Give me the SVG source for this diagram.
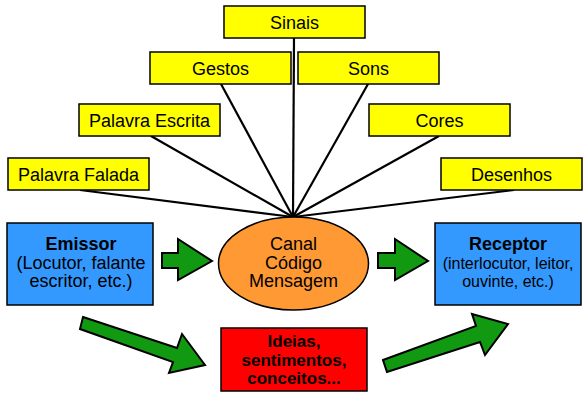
<svg xmlns="http://www.w3.org/2000/svg" width="588" height="400" viewBox="0 0 588 400">
<style>
.y{fill:#FFFF00;stroke:#000;stroke-width:1.5}
.b{fill:#3399FF;stroke:#000;stroke-width:1.5}
.t{font-family:"Liberation Sans",Arial,sans-serif;font-size:18px;fill:#000;text-anchor:middle}
.bd{font-weight:bold}
.sm{font-size:16px}
.ar{fill:#119911;stroke:#000;stroke-width:2;stroke-linejoin:miter}
.ln{stroke:#000;stroke-width:2.2;fill:none}
</style>
<rect width="588" height="400" fill="#fff"/>
<g id="connectors">
<line class="ln" x1="294" y1="38" x2="293" y2="217"/>
<line class="ln" x1="221" y1="84" x2="293" y2="217"/>
<line class="ln" x1="368" y1="84" x2="293" y2="217"/>
<line class="ln" x1="151" y1="136" x2="293" y2="217"/>
<line class="ln" x1="439" y1="136" x2="293" y2="217"/>
<line class="ln" x1="80" y1="190" x2="293" y2="217"/>
<line class="ln" x1="514" y1="190" x2="293" y2="217"/>
<polygon class="ar" points="162,253 178,253 178,239 212,261 178,280 178,268 162,268"/>
<polygon class="ar" points="378,253 395,253 395,239 428,261 395,280 395,268 378,268"/>
<polygon class="ar" points="83,317 177,348 182,334 205,365 169,373 173,362 80,329"/>
<polygon class="ar" points="383,360 476,326 472,314 508,324 485,355 480,342 387,372"/>
</g>
<g id="sinais"><rect class="y" x="224" y="6" width="141" height="32"/><text class="t" x="294.5" y="28.5">Sinais</text></g>
<g id="gestos"><rect class="y" x="150" y="52" width="141" height="32"/><text class="t" x="220.5" y="74.5">Gestos</text></g>
<g id="sons"><rect class="y" x="298" y="52" width="141" height="32"/><text class="t" x="368.5" y="74.5">Sons</text></g>
<g id="palavra-escrita"><rect class="y" x="79" y="104" width="141" height="32"/><text class="t" x="149.5" y="126.5">Palavra Escrita</text></g>
<g id="cores"><rect class="y" x="369" y="104" width="141" height="32"/><text class="t" x="439.5" y="126.5">Cores</text></g>
<g id="palavra-falada"><rect class="y" x="8" y="158" width="141" height="32"/><text class="t" x="78.5" y="180.5">Palavra Falada</text></g>
<g id="desenhos"><rect class="y" x="441" y="158" width="141" height="32"/><text class="t" x="511.5" y="180.5">Desenhos</text></g>
<g id="emissor"><rect class="b" x="7" y="223" width="146" height="82"/>
<text class="t bd" x="81" y="250">Emissor</text>
<text class="t" x="81" y="268.5">(Locutor, falante</text>
<text class="t" x="81" y="287">escritor, etc.)</text></g>
<g id="canal"><ellipse cx="293.5" cy="263.5" rx="75" ry="46.5" fill="#FF9933" stroke="#000" stroke-width="1.5"/>
<text class="t" x="293.5" y="250">Canal</text>
<text class="t" x="293.5" y="268.5">Código</text>
<text class="t" x="293.5" y="287">Mensagem</text></g>
<g id="receptor"><rect class="b" x="435" y="223" width="146" height="82"/>
<text class="t bd" x="508" y="250">Receptor</text>
<text class="t sm" x="508" y="268.5">(interlocutor, leitor,</text>
<text class="t sm" x="508" y="287">ouvinte, etc.)</text></g>
<g id="ideias"><rect x="221" y="328" width="146" height="63" fill="#FF0000" stroke="#000" stroke-width="1.5"/>
<text class="t bd" x="294" y="347" style="font-size:17px">Ideias,</text>
<text class="t bd" x="294" y="366" style="font-size:17px">sentimentos,</text>
<text class="t bd" x="294" y="384" style="font-size:17px">conceitos...</text></g>
</svg>
